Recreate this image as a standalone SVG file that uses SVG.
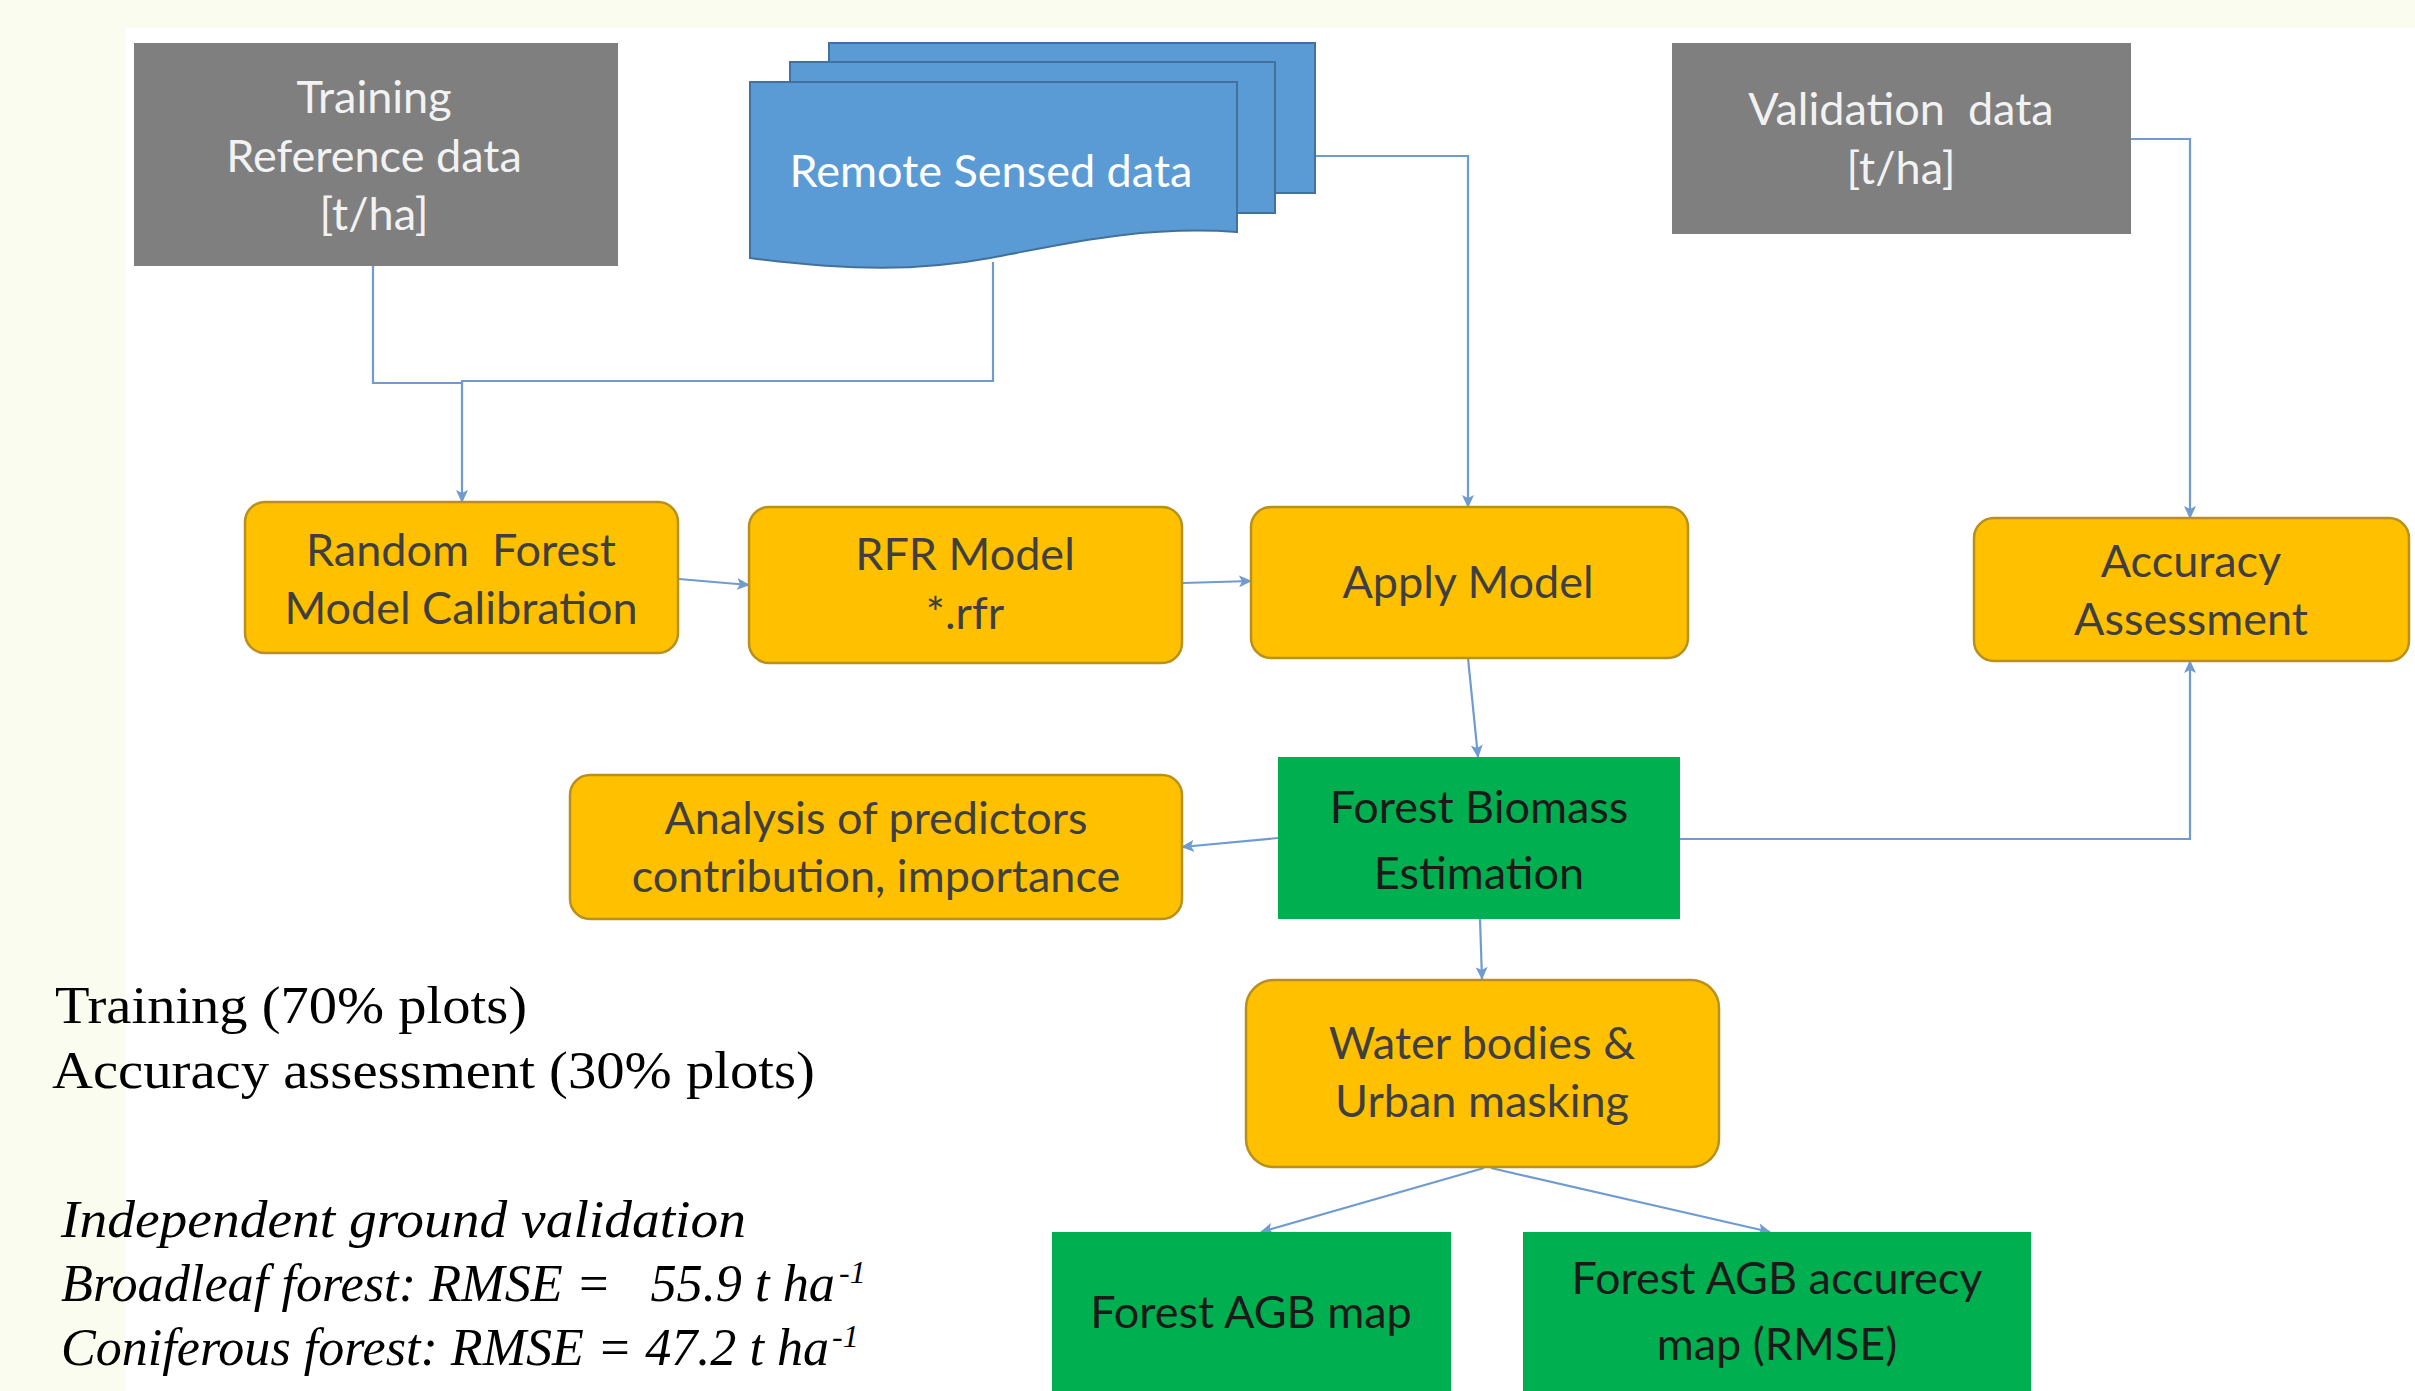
<svg xmlns="http://www.w3.org/2000/svg" width="2415" height="1391" viewBox="0 0 2415 1391">
<style>
.lbl{font-family:Lato,"Open Sans",sans-serif;font-size:45px;text-anchor:middle}
.lg{fill:#f2f2f2}
.lw{fill:#ffffff}
.lo{fill:#3f3f3f}
.lgr{fill:#1a1a1a}
.gray{fill:#7f7f7f}
.org{fill:#ffc000;stroke:#b8901a;stroke-width:2.5}
.grn{fill:#00b050}
.doc{fill:#5b9bd5;stroke:#41719c;stroke-width:2}
.con{fill:none;stroke:#6f9bd0;stroke-width:2.2}
.note{font-family:"Liberation Serif",serif;font-size:52px;fill:#000}
.sup{font-family:"Liberation Serif",serif;font-size:32px;fill:#000;font-style:italic}
</style>
<defs>
<marker id="arr" markerUnits="userSpaceOnUse" markerWidth="14" markerHeight="12" refX="12" refY="6" orient="auto">
<path d="M0,0 L13,6 L0,12 L3,6 Z" fill="#6f9bd0"/>
</marker>
</defs>
<rect x="0" y="0" width="2415" height="1391" fill="#fafcf0"/>
<rect x="125" y="28" width="2290" height="1363" fill="#ffffff"/>

<g id="connectors">
<path class="con" d="M373,266 V383 H462"/>
<path class="con" d="M993,262 V381 H462 V502" marker-end="url(#arr)"/>
<path class="con" d="M1315,156 H1468 V507" marker-end="url(#arr)"/>
<path class="con" d="M2131,139 H2190 V518" marker-end="url(#arr)"/>
<path class="con" d="M679,579 L749,585" marker-end="url(#arr)"/>
<path class="con" d="M1183,583 L1251,581" marker-end="url(#arr)"/>
<path class="con" d="M1468,658 L1478,757" marker-end="url(#arr)"/>
<path class="con" d="M1278,838 L1182,847" marker-end="url(#arr)"/>
<path class="con" d="M1680,839 H2190 V661" marker-end="url(#arr)"/>
<path class="con" d="M1480,919 L1482,979" marker-end="url(#arr)"/>
<path class="con" d="M1484,1168 L1261,1232" marker-end="url(#arr)"/>
<path class="con" d="M1491,1168 L1770,1232" marker-end="url(#arr)"/>
</g>

<g id="training">
<rect class="gray" x="134" y="43" width="484" height="223"/>
<text class="lbl lg" x="374" y="113">Training</text>
<text class="lbl lg" x="374" y="172">Reference data</text>
<text class="lbl lg" x="374" y="230">[t/ha]</text>
</g>

<g id="remote">
<rect class="doc" x="829" y="43" width="486" height="150"/>
<rect class="doc" x="790" y="62" width="485" height="151"/>
<path class="doc" d="M750,82 H1237 V232 C1140,225 1060,245 990,258 C920,271 850,271 750,258 Z"/>
<text class="lbl lw" x="991" y="187">Remote Sensed data</text>
</g>

<g id="validation">
<rect class="gray" x="1672" y="43" width="459" height="191"/>
<text class="lbl lg" x="1901" y="125" xml:space="preserve">Validation  data</text>
<text class="lbl lg" x="1901" y="184">[t/ha]</text>
</g>

<g id="rf">
<rect class="org" x="245" y="502" width="433" height="151" rx="20"/>
<text class="lbl lo" x="461" y="566" xml:space="preserve">Random  Forest</text>
<text class="lbl lo" x="461" y="624">Model Calibration</text>
</g>

<g id="rfr">
<rect class="org" x="749" y="507" width="433" height="156" rx="20"/>
<text class="lbl lo" x="965" y="570">RFR Model</text>
<text class="lbl lo" x="965" y="629">*.rfr</text>
</g>

<g id="apply">
<rect class="org" x="1251" y="507" width="437" height="151" rx="20"/>
<text class="lbl lo" x="1468" y="598">Apply Model</text>
</g>

<g id="accuracy">
<rect class="org" x="1974" y="518" width="435" height="143" rx="20"/>
<text class="lbl lo" x="2191" y="577">Accuracy</text>
<text class="lbl lo" x="2191" y="635">Assessment</text>
</g>

<g id="biomass">
<rect class="grn" x="1278" y="757" width="402" height="162"/>
<text class="lbl lgr" x="1479" y="823">Forest Biomass</text>
<text class="lbl lgr" x="1479" y="889">Estimation</text>
</g>

<g id="analysis">
<rect class="org" x="570" y="775" width="612" height="144" rx="20"/>
<text class="lbl lo" x="876" y="834">Analysis of predictors</text>
<text class="lbl lo" x="876" y="892">contribution, importance</text>
</g>

<g id="water">
<rect class="org" x="1246" y="980" width="473" height="187" rx="28"/>
<text class="lbl lo" x="1482" y="1059">Water bodies &amp;</text>
<text class="lbl lo" x="1482" y="1117">Urban masking</text>
</g>

<g id="agbmap">
<rect class="grn" x="1052" y="1232" width="399" height="170"/>
<text class="lbl lgr" x="1251" y="1328">Forest AGB map</text>
</g>

<g id="agbacc">
<rect class="grn" x="1523" y="1232" width="508" height="170"/>
<text class="lbl lgr" x="1777" y="1294">Forest AGB accurecy</text>
<text class="lbl lgr" x="1777" y="1360">map (RMSE)</text>
</g>

<g id="notes">
<text class="note" x="55" y="1023" textLength="472" lengthAdjust="spacingAndGlyphs">Training (70% plots)</text>
<text class="note" x="52" y="1088" textLength="763" lengthAdjust="spacingAndGlyphs">Accuracy assessment (30% plots)</text>
<text class="note" x="61" y="1237" font-style="italic" textLength="685" lengthAdjust="spacingAndGlyphs">Independent ground validation</text>
<text class="note" x="61" y="1301" font-style="italic" xml:space="preserve" textLength="774" lengthAdjust="spacingAndGlyphs">Broadleaf forest: RMSE =   55.9 t ha</text>
<text class="sup" x="839" y="1283">-1</text>
<text class="note" x="61" y="1365" font-style="italic" textLength="768" lengthAdjust="spacingAndGlyphs">Coniferous forest: RMSE = 47.2 t ha</text>
<text class="sup" x="832" y="1347">-1</text>
</g>
</svg>
